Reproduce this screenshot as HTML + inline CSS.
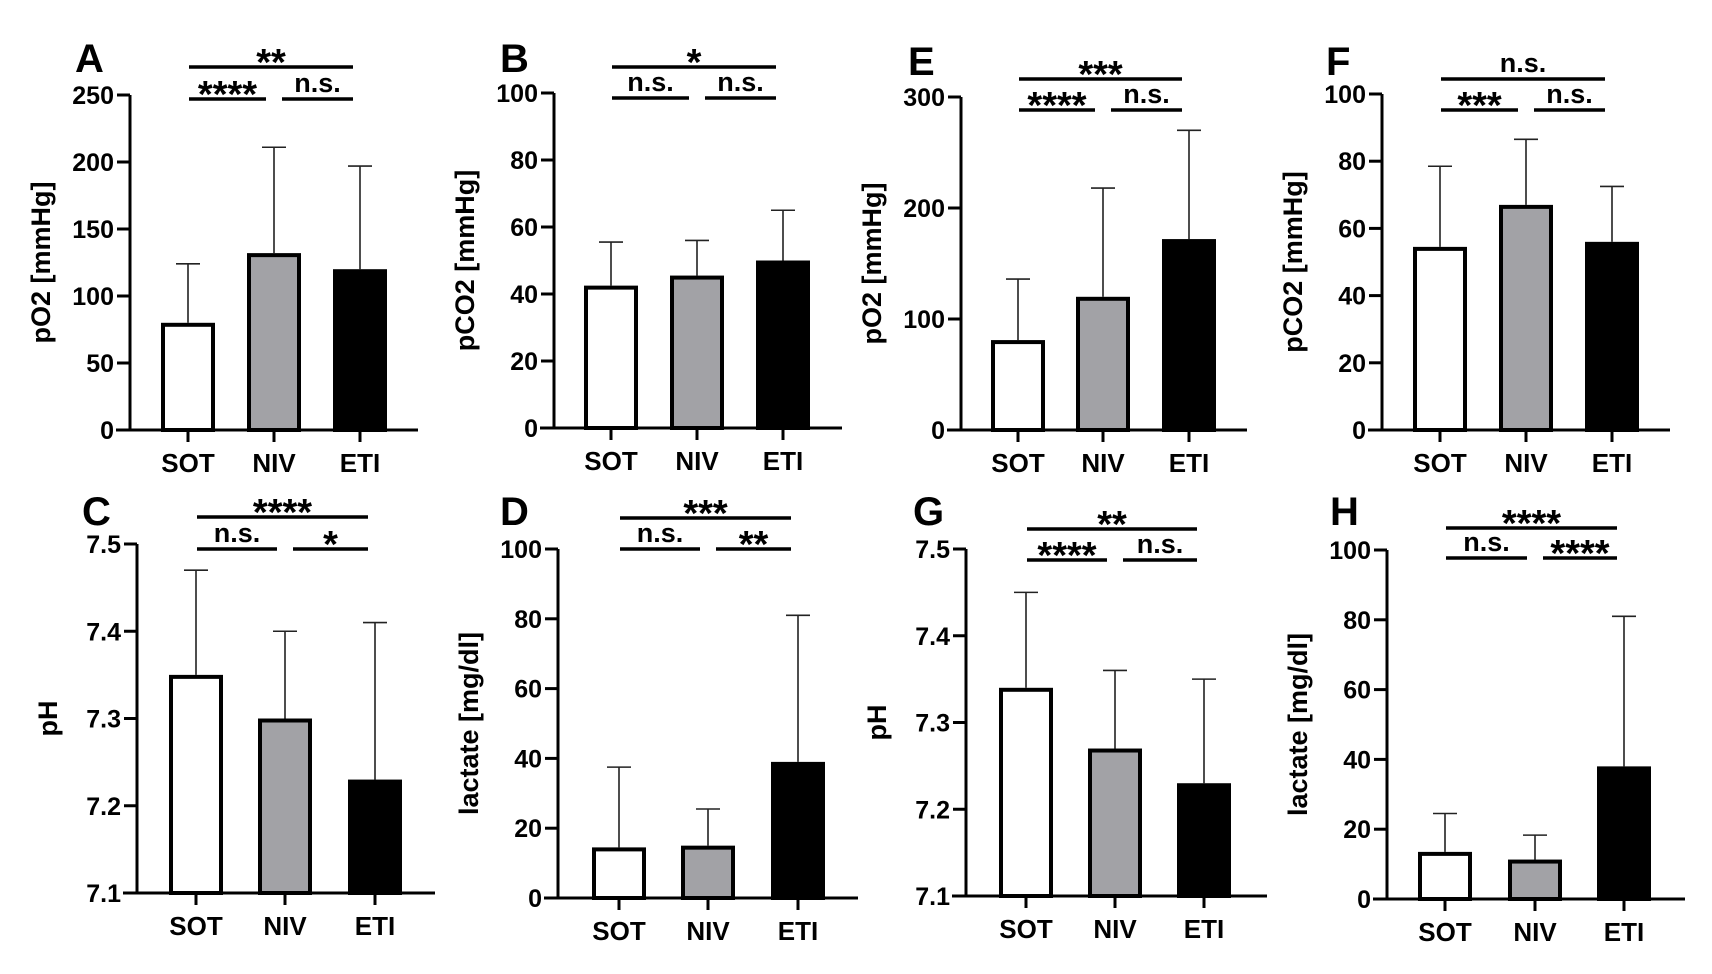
<!DOCTYPE html>
<html><head><meta charset="utf-8"><style>
html,body{margin:0;padding:0;background:#fff}
svg{display:block;font-family:"Liberation Sans",Arial,sans-serif;font-weight:bold}
</style></head><body>
<svg id="fig" width="1712" height="974" viewBox="0 0 1712 974"></svg>
<script>
const categories = ["SOT","NIV","ETI"];
const fills = ["#ffffff","#a2a2a6","#000000"];
const panelLetters = ["A","B","C","D","E","F","G","H"];
const yTitles = ["pO2 [mmHg]","pCO2 [mmHg]","pH","lactate [mg/dl]","pO2 [mmHg]","pCO2 [mmHg]","pH","lactate [mg/dl]"];
const yMins = [0,0,7.1,0,0,0,7.1,0];
const yMaxs = [250,100,7.5,100,300,100,7.5,100];
const yTicksA = [0,50,100,150,200,250];
const yTicksB = [0,20,40,60,80,100];
const yTicksC = [7.1,7.2,7.3,7.4,7.5];
const yTicksE = [0,100,200,300];
const meansA = [80,132,120];      const errA = [124,211,197];
const meansB = [42.5,45.5,50];    const errB = [55.5,56,65];
const meansC = [7.35,7.30,7.23];  const errC = [7.47,7.40,7.41];
const meansD = [14.5,15,39];      const errD = [37.5,25.5,81];
const meansE = [81,120,172];      const errE = [136,218,270];
const meansF = [54.5,67,56];      const errF = [78.5,86.5,72.5];
const meansG = [7.34,7.27,7.23];  const errG = [7.45,7.36,7.35];
const meansH = [13.5,11.3,38];    const errH = [24.5,18.3,81];
const sigTop = ["**","*","****","***","***","n.s.","**","****"];
const sigLeft = ["****","n.s.","n.s.","n.s.","****","***","****","n.s."];
const sigRight = ["n.s.","n.s.","*","**","n.s.","n.s.","n.s.","****"];

const layout = [
 {ax:130,top:95,bot:430,xe:418,cx:[188,274,360],lx:75,ly:72,st:67,sl:99},
 {ax:554,top:93,bot:428,xe:842,cx:[611,697,783],lx:500,ly:72,st:67,sl:98},
 {ax:137,top:544,bot:893,xe:435,cx:[196,285,375],lx:82,ly:525,st:517,sl:549},
 {ax:558,top:549,bot:898,xe:858,cx:[619,708,798],lx:500,ly:525,st:518,sl:549},
 {ax:961,top:97,bot:430,xe:1247,cx:[1018,1103,1189],lx:908,ly:75,st:79,sl:110},
 {ax:1382,top:94,bot:430,xe:1670,cx:[1440,1526,1612],lx:1326,ly:75,st:79,sl:110},
 {ax:966,top:549,bot:896,xe:1267,cx:[1026,1115,1204],lx:913,ly:525,st:529,sl:560},
 {ax:1387,top:550,bot:899,xe:1685,cx:[1445,1535,1624],lx:1330,ly:525,st:528,sl:558}
];
const allTicks = [yTicksA,yTicksB,yTicksC,yTicksB,yTicksE,yTicksB,yTicksC,yTicksB];
const allMeans = [meansA,meansB,meansC,meansD,meansE,meansF,meansG,meansH];
const allErr = [errA,errB,errC,errD,errE,errF,errG,errH];

const NS="http://www.w3.org/2000/svg";
const svg=document.getElementById('fig');
function mk(tag,attrs,parent){const e=document.createElementNS(NS,tag);for(const k in attrs)e.setAttribute(k,attrs[k]);(parent||svg).appendChild(e);return e;}

for(let p=0;p<8;p++){
  const L=layout[p];
  const g=mk('g',{});
  
  
  const y=v=>L.bot-(v-yMins[p])/(yMaxs[p]-yMins[p])*(L.bot-L.top);
  const lt=mk('text',{x:L.lx,y:L.ly,'font-size':40},g); lt.textContent=panelLetters[p];
  
  
  const bw=54;
  for(let i=0;i<3;i++){
    const cx=L.cx[i];
    const eb=mk('line',{x1:cx,x2:cx,y1:y(allMeans[p][i]),y2:y(allErr[p][i]),stroke:'#222','stroke-width':1.6},g);
    
    
    const cap=mk('line',{x1:cx-12,x2:cx+12,y1:y(allErr[p][i]),y2:y(allErr[p][i]),stroke:'#222','stroke-width':1.6},g);
    
    
    const r=mk('rect',{x:cx-bw/2+2,y:y(allMeans[p][i])+2,width:bw-4,height:L.bot-y(allMeans[p][i])-2,fill:fills[i],stroke:'#000','stroke-width':4},g);
    
    
    const tk=mk('line',{x1:cx,x2:cx,y1:L.bot,y2:L.bot+12,stroke:'#000','stroke-width':3},g);
    
    
    const cl=mk('text',{x:cx,y:L.bot+42,'font-size':26,'text-anchor':'middle'},g); cl.textContent=categories[i];
    
    
  }
  const ya=mk('line',{x1:L.ax,x2:L.ax,y1:L.top,y2:L.bot+1.5,stroke:'#000','stroke-width':3},g);
  
  
  const xa=mk('line',{x1:L.ax-14,x2:L.xe,y1:L.bot,y2:L.bot,stroke:'#000','stroke-width':3},g);
  
  
  allTicks[p].forEach(t=>{
    const ty=y(t);
    if(t!==yMins[p]){const tl=mk('line',{x1:L.ax-13,x2:L.ax,y1:ty,y2:ty,stroke:'#000','stroke-width':3},g);
      
      }
    const tt=mk('text',{x:L.ax-16,y:ty+9,'font-size':25,'text-anchor':'end'},g);
    tt.textContent=(yMins[p]>7?t.toFixed(1):String(t));
    
    
  });
  const tx=L.ax-80, tyc=(L.top+L.bot)/2;
  const yt=mk('text',{x:tx,y:tyc,'font-size':27,'text-anchor':'middle',transform:`rotate(-90 ${tx} ${tyc})`},g);
  yt.textContent=yTitles[p];
  
  
  const c0=L.cx[0]+1,c1=L.cx[1],c2=L.cx[2]-7;
  const segs=[[c0,c2,L.st,sigTop[p]],[c0,c1-8,L.sl,sigLeft[p]],[c1+8,c2,L.sl,sigRight[p]]];
  segs.forEach((s,k)=>{
    const ln=mk('line',{x1:s[0],x2:s[1],y1:s[2],y2:s[2],stroke:'#000','stroke-width':3.5},g);
    
    
    const star=s[3].indexOf('*')>=0;
    const st=mk('text',{x:(s[0]+s[1])/2,y:star?s[2]+8:s[2]-7,'font-size':star?38:27,'text-anchor':'middle'},g);
    st.textContent=s[3];
    
    
  });
}
</script>
</body></html>
